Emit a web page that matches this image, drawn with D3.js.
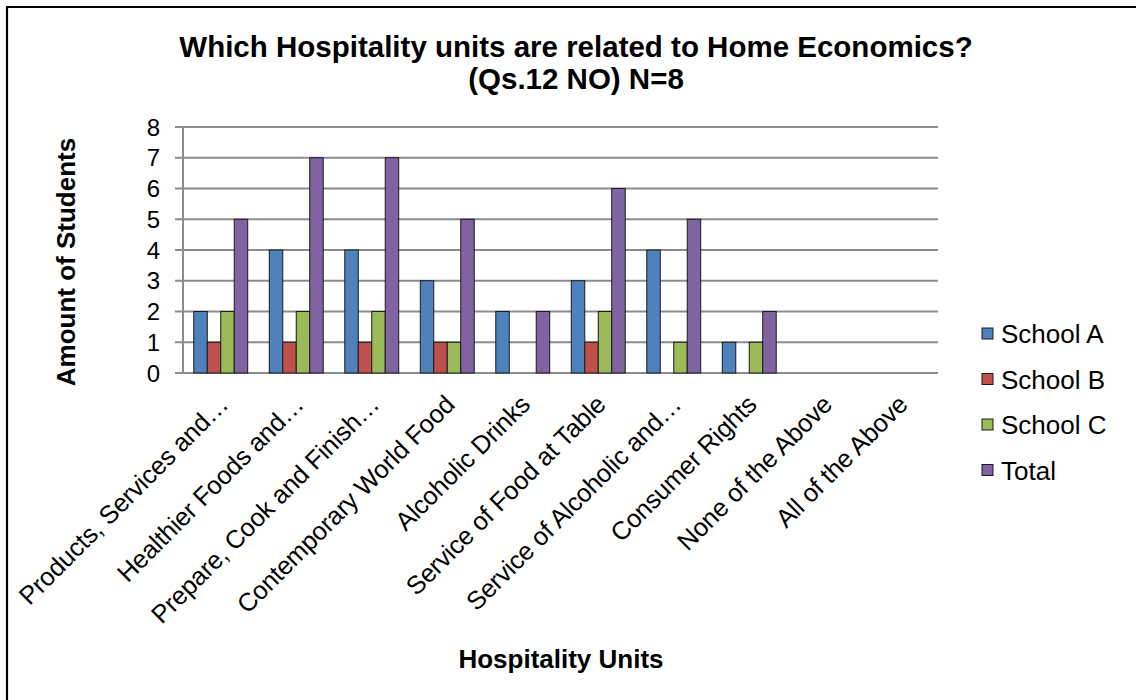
<!DOCTYPE html>
<html>
<head>
<meta charset="utf-8">
<script src="https://cdn.jsdelivr.net/npm/d3@7"></script>
<style>
  html, body { margin: 0; padding: 0; background: #fff; }
  svg { display: block; font-family: Arial, "Liberation Sans", sans-serif; }
</style>
</head>
<body>
<svg id="chart" width="1136" height="700"></svg>
<script>
// Hospitality units (x categories)
const categories = [
  "Products, Services and\u2026",
  "Healthier Foods and\u2026",
  "Prepare, Cook and Finish\u2026",
  "Contemporary World Food",
  "Alcoholic Drinks",
  "Service of Food at Table",
  "Service of Alcoholic and\u2026",
  "Consumer Rights",
  "None of the Above",
  "All of the Above"
];
const seriesNames = ["School A", "School B", "School C", "Total"];
const schoolA = [2, 4, 4, 3, 2, 3, 4, 1, 0, 0];
const schoolB = [1, 1, 1, 1, 0, 1, 0, 0, 0, 0];
const schoolC = [2, 2, 2, 1, 0, 2, 1, 1, 0, 0];
const total   = [5, 7, 7, 5, 2, 6, 5, 2, 0, 0];
const yTicks  = [0, 1, 2, 3, 4, 5, 6, 7, 8];
const colors  = ["#4F81BD", "#C0504D", "#9BBB59", "#8064A2"];

const seriesValues = [schoolA, schoolB, schoolC, total];

const svg = d3.select("#chart");

// outer frame (left and top edges visible)
svg.append("path")
  .attr("d", "M7,700 L7,7 L1136,7")
  .attr("fill", "none")
  .attr("stroke", "#000")
  .attr("stroke-width", 2.2);

const plot = { left: 183, right: 938, top: 127, bottom: 373 };

const x = d3.scaleBand()
  .domain(categories)
  .range([plot.left, plot.right]);

const xInner = d3.scaleBand()
  .domain(seriesNames)
  .range([0, x.bandwidth()])
  .paddingInner(0)
  .paddingOuter(0.8);

const y = d3.scaleLinear()
  .domain([0, 8])
  .range([plot.bottom, plot.top]);

// gridlines
svg.append("g")
  .selectAll("line")
  .data(yTicks)
  .join("line")
  .attr("x1", plot.left - 8)
  .attr("x2", plot.right)
  .attr("y1", d => y(d))
  .attr("y2", d => y(d))
  .attr("stroke", "#8c8c8c")
  .attr("stroke-width", 2);

// y axis line
svg.append("line")
  .attr("x1", plot.left).attr("x2", plot.left)
  .attr("y1", plot.top).attr("y2", plot.bottom)
  .attr("stroke", "#8c8c8c")
  .attr("stroke-width", 2);

// y tick labels
svg.append("g")
  .selectAll("text")
  .data(yTicks)
  .join("text")
  .attr("x", 160)
  .attr("y", d => y(d))
  .attr("dy", "0.36em")
  .attr("text-anchor", "end")
  .attr("font-size", 24)
  .attr("fill", "#000")
  .text(d => d);

// bars
const groups = svg.append("g")
  .selectAll("g")
  .data(categories)
  .join("g")
  .attr("transform", d => `translate(${x(d)},0)`);

groups.selectAll("rect")
  .data((d, i) => seriesNames.map((s, k) => ({ s, v: seriesValues[k][i], k })))
  .join("rect")
  .filter(d => d.v > 0)
  .attr("x", d => xInner(d.s))
  .attr("width", xInner.bandwidth())
  .attr("y", d => y(d.v))
  .attr("height", d => y(0) - y(d.v))
  .attr("fill", d => colors[d.k])
  .attr("stroke", "#1a1a1a")
  .attr("stroke-width", 1);

// x tick labels, rotated
svg.append("g")
  .selectAll("text")
  .data(categories)
  .join("text")
  .attr("transform", d => `translate(${x(d) + x.bandwidth() / 2 + 9},${plot.bottom + 33}) rotate(-45)`)
  .attr("text-anchor", "end")
  .attr("font-size", 25.5)
  .attr("letter-spacing", -0.2)
  .attr("fill", "#000")
  .text(d => d);

// title
const title = svg.append("text")
  .attr("text-anchor", "middle")
  .attr("font-size", 29.5)
  .attr("font-weight", "bold")
  .attr("fill", "#000");
title.append("tspan").attr("x", 576).attr("y", 57)
  .text("Which Hospitality units are related to Home Economics?");
title.append("tspan").attr("x", 576).attr("y", 89)
  .text("(Qs.12 NO) N=8");

// axis titles
svg.append("text")
  .attr("transform", `translate(75,262) rotate(-90)`)
  .attr("text-anchor", "middle")
  .attr("font-size", 26)
  .attr("font-weight", "bold")
  .text("Amount of Students");

svg.append("text")
  .attr("x", 561)
  .attr("y", 668)
  .attr("text-anchor", "middle")
  .attr("font-size", 26)
  .attr("font-weight", "bold")
  .text("Hospitality Units");

// legend
const legend = svg.append("g")
  .selectAll("g")
  .data(seriesNames)
  .join("g")
  .attr("transform", (d, i) => `translate(982,${334 + i * 45.5})`);

legend.append("rect")
  .attr("x", 0).attr("y", -6)
  .attr("width", 11).attr("height", 11)
  .attr("fill", (d, i) => colors[i])
  .attr("stroke", "#1a1a1a")
  .attr("stroke-width", 1);

legend.append("text")
  .attr("x", 19)
  .attr("y", 0)
  .attr("dy", "0.36em")
  .attr("font-size", 26)
  .text(d => d);
</script>
</body>
</html>
